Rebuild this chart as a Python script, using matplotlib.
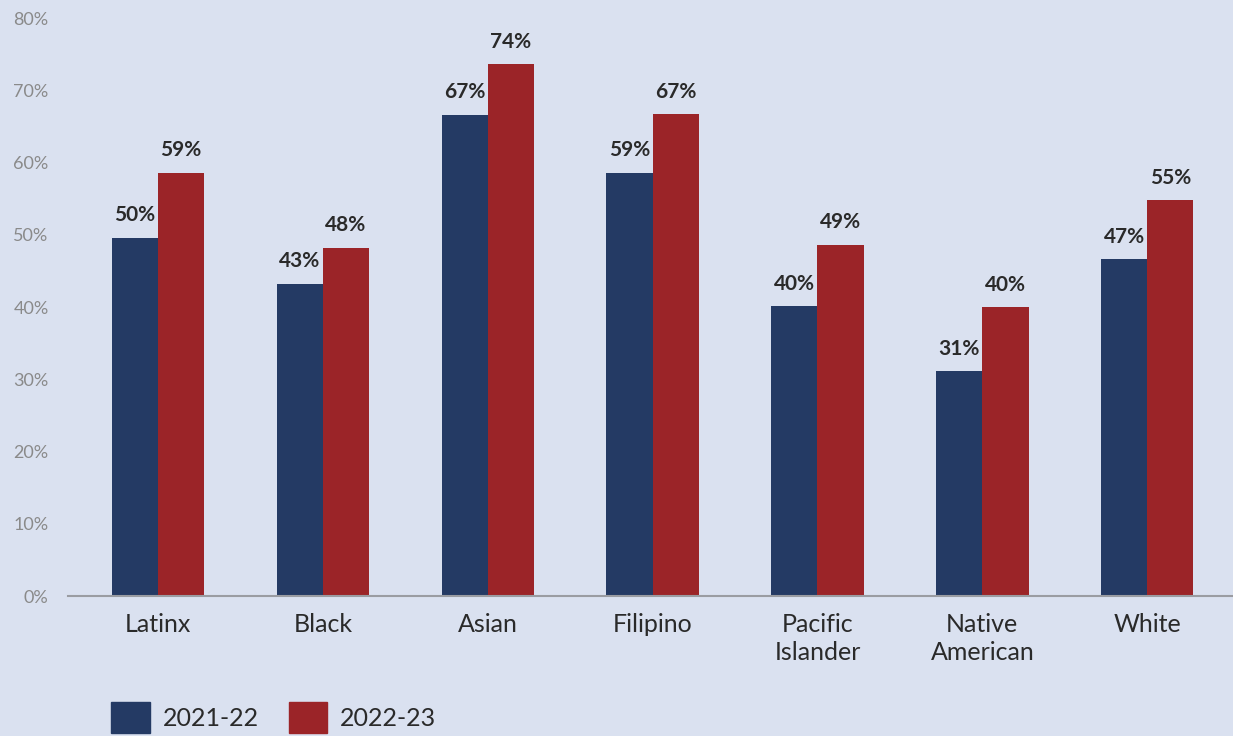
import numpy as np
import matplotlib.pyplot as plt
from matplotlib.patches import Patch

plt.rcParams['font.family'] = ['Lato', 'DejaVu Sans']

groups = ['Latinx', 'Black', 'Asian', 'Filipino', 'Pacific\nIslander', 'Native\nAmerican', 'White']
vals_2122 = [49.6, 43.2, 66.6, 58.6, 40.1, 31.1, 46.6]
vals_2223 = [58.6, 48.2, 73.6, 66.7, 48.6, 40.0, 54.8]
series_names = ['2021-22', '2022-23']

bg = '#dae1f0'
navy = '#243a64'
red = '#9b2428'

fig = plt.figure(figsize=(12.33, 7.36), dpi=100, facecolor=bg)
ax = fig.add_axes([0.0552, 0.1902, 0.9448, 0.7853])
ax.set_facecolor(bg)

x = np.arange(len(groups))
w = 0.28
b1 = ax.bar(x - w/2, vals_2122, w, color=navy)
b2 = ax.bar(x + w/2, vals_2223, w, color=red)

for bars in (b1, b2):
    for r in bars:
        h = r.get_height()
        ax.annotate(f'{h:.0f}%', (r.get_x() + r.get_width()/2, h),
                    xytext=(0, 9), textcoords='offset points',
                    ha='center', va='bottom', fontsize=15, fontweight='bold',
                    color='#2a2a2a')

ax.set_xlim(-0.545, 6.52)
ax.set_ylim(0, 80)
ax.set_yticks(range(0, 81, 10))
ax.set_yticklabels([f'{t}%' for t in range(0, 81, 10)])
ax.set_xticks(x)
ax.set_xticklabels(groups, fontsize=18, color='#2a2a2a', linespacing=1.3)
ax.tick_params(axis='y', length=0, labelsize=13, labelcolor='#8a8a8a', pad=14)
ax.tick_params(axis='x', length=0, pad=12)
for s in ['top', 'right', 'left']:
    ax.spines[s].set_visible(False)
ax.spines['bottom'].set_color('#9a9ca2')
ax.spines['bottom'].set_linewidth(1.5)

handles = [Patch(color=navy), Patch(color=red)]
fig.legend(handles, series_names, loc='upper left', bbox_to_anchor=(0.08, 0.063),
           ncol=2, frameon=False, fontsize=18, handlelength=1.55, handleheight=1.5,
           handletextpad=0.5, columnspacing=1.2, borderpad=0, labelcolor='#2a2a2a')

fig.savefig('out.png', dpi=100, facecolor=bg)
